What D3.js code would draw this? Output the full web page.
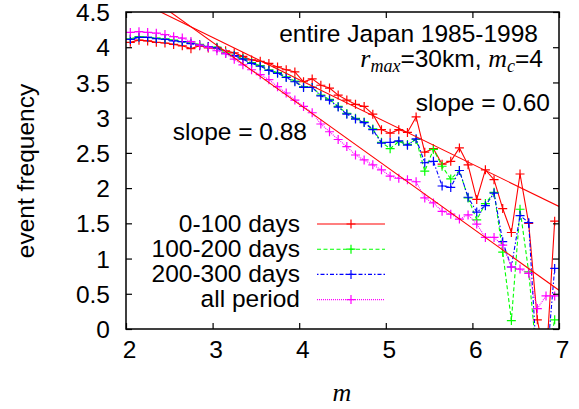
<!DOCTYPE html>
<html><head><meta charset="utf-8">
<script src="https://cdn.jsdelivr.net/npm/d3@7"></script>
<style>
body{margin:0;background:#fff;}
svg{display:block;}
text{font-family:"Liberation Sans",Arial,Helvetica,sans-serif;fill:#000;}
</style></head>
<body><svg id="c" width="579" height="409"></svg>
<script>
const mValues = [2.05,2.15,2.25,2.35,2.45,2.55,2.65,2.75,2.85,2.95,3.05,3.15,3.25,3.35,3.45,3.55,3.65,3.75,3.85,3.95,4.05,4.15,4.25,4.35,4.45,4.55,4.65,4.75,4.85,4.95,5.05,5.15,5.25,5.35,5.45,5.55,5.65,5.75,5.85,5.95,6.05,6.15,6.25,6.35,6.45,6.55,6.65,6.75,6.85,6.95];
const days0_100 = [4.07,4.10,4.09,4.07,4.06,4.04,4.02,3.98,4.02,3.99,3.99,3.95,3.92,3.87,3.82,3.80,3.77,3.72,3.68,3.65,3.51,3.55,3.46,3.42,3.32,3.25,3.19,3.16,3.05,2.83,2.78,2.83,2.79,3.01,2.51,2.56,2.34,2.38,2.57,2.33,1.84,2.26,2.12,1.71,1.37,2.20,1.50,0.13,-0.5,1.53];
const days100_200 = [4.12,4.15,4.14,4.13,4.12,4.10,4.08,4.06,4.04,4.01,4.00,3.92,3.88,3.84,3.78,3.74,3.68,3.64,3.58,3.52,3.44,3.43,3.32,3.26,3.16,3.06,2.99,2.94,2.84,2.65,2.56,2.66,2.62,2.69,2.24,2.55,2.31,2.13,2.25,1.86,1.55,1.78,1.94,1.09,0.12,1.70,0.81,-0.5,-0.5,0.13];
const days200_300 = [4.11,4.14,4.14,4.12,4.11,4.09,4.08,4.05,4.03,4.01,3.99,3.91,3.88,3.83,3.77,3.73,3.67,3.63,3.57,3.51,3.43,3.43,3.31,3.25,3.15,3.05,2.98,2.93,2.83,2.64,2.65,2.67,2.61,2.70,2.36,2.38,2.03,2.01,2.25,1.87,1.66,1.75,1.93,1.24,0.88,1.61,1.51,-0.6,-0.6,0.86];
const allPeriod = [4.21,4.22,4.21,4.20,4.18,4.15,4.13,4.08,4.03,4.00,3.95,3.91,3.83,3.75,3.68,3.61,3.54,3.44,3.35,3.25,3.16,3.07,2.91,2.80,2.69,2.59,2.47,2.40,2.33,2.26,2.17,2.14,2.12,2.09,1.86,1.79,1.67,1.63,1.56,1.62,1.49,1.30,1.30,1.19,0.88,0.85,0.79,0.29,0.47,0.47];
const seriesNames = ["0-100 days","100-200 days","200-300 days","all period"];
const seriesColors = ["#ff0000","#00ff00","#0000ff","#ff00ff"];
const seriesDash = [null,"4,2.5","1.5,2,4,2","1,1"];
const fitSlopes = [0.60, 0.88];
const fitIntercepts = [5.94, 6.71];
const xTicks = [2,3,4,5,6,7];
const yTicks = [0,0.5,1,1.5,2,2.5,3,3.5,4,4.5];

const FS = 24.5;
const svg = d3.select("#c");
const L=126, R=559, T=12, B=329;
const x = d3.scaleLinear().domain([2,7]).range([L,R]);
const y = d3.scaleLinear().domain([0,4.5]).range([B,T]);

svg.append("clipPath").attr("id","clip").append("rect").attr("x",L).attr("y",T).attr("width",R-L).attr("height",B-T);
const plot = svg.append("g").attr("clip-path","url(#clip)");

const seriesData = [days0_100, days100_200, days200_300, allPeriod];
const line = d3.line().x(d=>x(d[0])).y(d=>y(d[1]));

function cross(g, cx, cy, color){
  const s=4.5;
  g.append("path").attr("d",`M${cx-s},${cy}H${cx+s}M${cx},${cy-s}V${cy+s}`)
   .attr("stroke",color).attr("stroke-width",1.2).attr("fill","none");
}

seriesData.forEach((vals,i)=>{
  const pts = mValues.map((m,k)=>[m,vals[k]]);
  const p = plot.append("path").datum(pts).attr("d",line)
    .attr("fill","none").attr("stroke",seriesColors[i]).attr("stroke-width",1.1);
  if(seriesDash[i]) p.attr("stroke-dasharray",seriesDash[i]);
  pts.forEach(d=>cross(plot,x(d[0]),y(d[1]),seriesColors[i]));
});

// fit lines
fitSlopes.forEach((s,i)=>{
  const pts=[[2,fitIntercepts[i]-s*2],[7,fitIntercepts[i]-s*7]];
  plot.append("path").datum(pts).attr("d",line).attr("fill","none").attr("stroke","#ff0000").attr("stroke-width",1.1);
});

// border
svg.append("rect").attr("x",L).attr("y",T).attr("width",R-L).attr("height",B-T)
  .attr("fill","none").attr("stroke","#000").attr("stroke-width",1.5);

// axes
const tl=6;
const xb = d3.axisBottom(x).tickValues(xTicks).tickSizeInner(-tl).tickSizeOuter(0).tickPadding(14).tickFormat(d3.format("d"));
const gx = svg.append("g").attr("transform",`translate(0,${B})`).call(xb);
const xt = d3.axisTop(x).tickValues(xTicks).tickSizeInner(-tl).tickSizeOuter(0).tickFormat("");
const gxt = svg.append("g").attr("transform",`translate(0,${T})`).call(xt);
const yl = d3.axisLeft(y).tickValues(yTicks).tickSizeInner(-tl).tickSizeOuter(0).tickPadding(16).tickFormat(d=>String(d));
const gy = svg.append("g").attr("transform",`translate(${L},0)`).call(yl);
const yr = d3.axisRight(y).tickValues(yTicks).tickSizeInner(-tl).tickSizeOuter(0).tickFormat("");
const gyr = svg.append("g").attr("transform",`translate(${R},0)`).call(yr);
[gx,gxt,gy,gyr].forEach(g=>{
  g.select(".domain").remove();
  g.selectAll(".tick line").attr("stroke","#000").attr("stroke-width",1.2);
  g.selectAll("text").attr("font-family","Liberation Sans, Arial, sans-serif").attr("font-size",FS).attr("fill","#000");
});
gx.selectAll(".tick text").attr("dy","0.62em").attr("dx",3);
gy.selectAll(".tick text").attr("dy","0.35em");

// axis labels
svg.append("text").attr("transform","translate(34,171) rotate(-90)").attr("text-anchor","middle")
  .attr("font-size",FS).text("event frequency");
svg.append("text").attr("x",342).attr("y",401).attr("text-anchor","middle")
  .style("font-family","'Liberation Serif','Times New Roman',serif").style("font-style","italic")
  .attr("font-size",26).text("m");

// annotations
svg.append("text").attr("x",538).attr("y",42).attr("text-anchor","end").attr("font-size",FS).text("entire Japan 1985-1998");
const t2 = svg.append("text").attr("x",543).attr("y",67).attr("text-anchor","end").attr("font-size",FS);
const serif="'Liberation Serif','Times New Roman',serif";
t2.append("tspan").style("font-family",serif).style("font-style","italic").attr("font-size",26).text("r");
t2.append("tspan").style("font-family",serif).style("font-style","italic").attr("font-size",18).attr("dy",5).text("max");
t2.append("tspan").attr("dy",-5).text("=30km, ");
t2.append("tspan").style("font-family",serif).style("font-style","italic").attr("font-size",26).text("m");
t2.append("tspan").style("font-family",serif).style("font-style","italic").attr("font-size",18).attr("dy",5).text("c");
t2.append("tspan").attr("dy",-5).text("=4");
svg.append("text").attr("x",550).attr("y",111).attr("text-anchor","end").attr("font-size",FS).text("slope = 0.60");
svg.append("text").attr("x",307).attr("y",140).attr("text-anchor","end").attr("font-size",FS).text("slope = 0.88");

// legend
seriesNames.forEach((n,i)=>{
  const ly = 224 + i*25.2;
  svg.append("text").attr("x",300).attr("y",ly+7.5).attr("text-anchor","end").attr("font-size",FS).text(n);
  const lp = svg.append("line").attr("x1",317).attr("x2",385).attr("y1",ly).attr("y2",ly)
    .attr("stroke",seriesColors[i]).attr("stroke-width",1.1);
  if(seriesDash[i]) lp.attr("stroke-dasharray",seriesDash[i]);
  cross(svg,351,ly,seriesColors[i]);
});
</script></body></html>
